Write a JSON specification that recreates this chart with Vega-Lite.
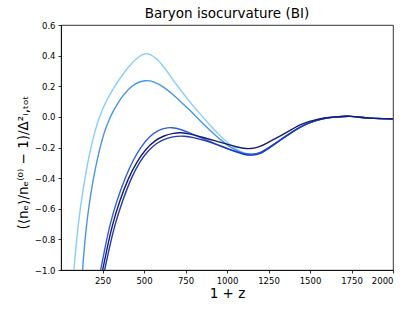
{
  "$schema": "https://vega.github.io/schema/vega-lite/v6.json",
  "width": 332,
  "height": 245,
  "autosize": {"type": "none"},
  "padding": {"left": 61, "top": 25, "right": 22, "bottom": 41},
  "background": "white",
  "config": {
    "font": "DejaVu Sans",
    "view": {"stroke": "black", "strokeWidth": 0.8},
    "axis": {"labelFont": "DejaVu Sans", "titleFont": "DejaVu Sans", "labelFontSize": 8.5, "labelColor": "black", "tickColor": "black", "domainColor": "black", "tickSize": 3, "tickWidth": 0.8, "domainWidth": 0.8, "grid": false, "titleFontWeight": "normal", "titleColor": "black", "labelPadding": 3}
  },
  "title": {"text": "Baryon isocurvature (BI)", "font": "DejaVu Sans", "fontSize": 13.5, "fontWeight": "normal", "color": "black", "offset": 1},
  "data": {"values": [
    {"s": "A", "x": 78, "y": -1.0}, {"s": "A", "x": 94, "y": -0.80}, {"s": "A", "x": 114, "y": -0.61}, {"s": "A", "x": 144, "y": -0.395}, {"s": "A", "x": 175, "y": -0.22}, {"s": "A", "x": 205, "y": -0.09}, {"s": "A", "x": 235, "y": 0.01}, {"s": "A", "x": 270, "y": 0.10}, {"s": "A", "x": 320, "y": 0.195}, {"s": "A", "x": 370, "y": 0.275}, {"s": "A", "x": 420, "y": 0.345}, {"s": "A", "x": 470, "y": 0.397}, {"s": "A", "x": 505, "y": 0.415}, {"s": "A", "x": 540, "y": 0.41}, {"s": "A", "x": 580, "y": 0.378}, {"s": "A", "x": 620, "y": 0.325}, {"s": "A", "x": 660, "y": 0.265}, {"s": "A", "x": 706, "y": 0.195}, {"s": "A", "x": 756, "y": 0.125}, {"s": "A", "x": 805, "y": 0.058}, {"s": "A", "x": 855, "y": 0.0}, {"s": "A", "x": 900, "y": -0.058}, {"s": "A", "x": 950, "y": -0.115}, {"s": "A", "x": 1000, "y": -0.165}, {"s": "A", "x": 1050, "y": -0.208}, {"s": "A", "x": 1100, "y": -0.236}, {"s": "A", "x": 1150, "y": -0.248}, {"s": "A", "x": 1200, "y": -0.238}, {"s": "A", "x": 1250, "y": -0.203}, {"s": "A", "x": 1320, "y": -0.15}, {"s": "A", "x": 1400, "y": -0.093}, {"s": "A", "x": 1440, "y": -0.065}, {"s": "A", "x": 1500, "y": -0.036}, {"s": "A", "x": 1540, "y": -0.021}, {"s": "A", "x": 1600, "y": -0.006}, {"s": "A", "x": 1650, "y": -0.001}, {"s": "A", "x": 1700, "y": 0.003}, {"s": "A", "x": 1740, "y": 0.005}, {"s": "A", "x": 1800, "y": -0.002}, {"s": "A", "x": 1860, "y": -0.009}, {"s": "A", "x": 1920, "y": -0.012}, {"s": "A", "x": 2000, "y": -0.012},

    {"s": "B", "x": 130, "y": -1.0}, {"s": "B", "x": 144, "y": -0.80}, {"s": "B", "x": 164, "y": -0.61}, {"s": "B", "x": 194, "y": -0.40}, {"s": "B", "x": 230, "y": -0.22}, {"s": "B", "x": 260, "y": -0.10}, {"s": "B", "x": 290, "y": -0.015}, {"s": "B", "x": 320, "y": 0.05}, {"s": "B", "x": 360, "y": 0.12}, {"s": "B", "x": 400, "y": 0.175}, {"s": "B", "x": 450, "y": 0.222}, {"s": "B", "x": 505, "y": 0.241}, {"s": "B", "x": 560, "y": 0.232}, {"s": "B", "x": 620, "y": 0.195}, {"s": "B", "x": 676, "y": 0.145}, {"s": "B", "x": 720, "y": 0.10}, {"s": "B", "x": 770, "y": 0.05}, {"s": "B", "x": 820, "y": -0.005}, {"s": "B", "x": 870, "y": -0.06}, {"s": "B", "x": 920, "y": -0.11}, {"s": "B", "x": 970, "y": -0.158}, {"s": "B", "x": 1020, "y": -0.198}, {"s": "B", "x": 1070, "y": -0.228}, {"s": "B", "x": 1120, "y": -0.245}, {"s": "B", "x": 1150, "y": -0.25}, {"s": "B", "x": 1200, "y": -0.24}, {"s": "B", "x": 1250, "y": -0.205}, {"s": "B", "x": 1320, "y": -0.152}, {"s": "B", "x": 1400, "y": -0.094}, {"s": "B", "x": 1440, "y": -0.066}, {"s": "B", "x": 1500, "y": -0.037}, {"s": "B", "x": 1540, "y": -0.021}, {"s": "B", "x": 1600, "y": -0.006}, {"s": "B", "x": 1650, "y": -0.001}, {"s": "B", "x": 1700, "y": 0.003}, {"s": "B", "x": 1740, "y": 0.005}, {"s": "B", "x": 1800, "y": -0.002}, {"s": "B", "x": 1860, "y": -0.009}, {"s": "B", "x": 1920, "y": -0.012}, {"s": "B", "x": 2000, "y": -0.012},

    {"s": "C", "x": 239, "y": -1.0}, {"s": "C", "x": 262, "y": -0.87}, {"s": "C", "x": 295, "y": -0.70}, {"s": "C", "x": 335, "y": -0.55}, {"s": "C", "x": 385, "y": -0.40}, {"s": "C", "x": 435, "y": -0.28}, {"s": "C", "x": 485, "y": -0.19}, {"s": "C", "x": 535, "y": -0.125}, {"s": "C", "x": 585, "y": -0.088}, {"s": "C", "x": 625, "y": -0.073}, {"s": "C", "x": 666, "y": -0.068}, {"s": "C", "x": 720, "y": -0.08}, {"s": "C", "x": 776, "y": -0.105}, {"s": "C", "x": 850, "y": -0.14}, {"s": "C", "x": 900, "y": -0.162}, {"s": "C", "x": 950, "y": -0.185}, {"s": "C", "x": 1000, "y": -0.205}, {"s": "C", "x": 1050, "y": -0.225}, {"s": "C", "x": 1100, "y": -0.24}, {"s": "C", "x": 1150, "y": -0.246}, {"s": "C", "x": 1200, "y": -0.236}, {"s": "C", "x": 1250, "y": -0.202}, {"s": "C", "x": 1320, "y": -0.15}, {"s": "C", "x": 1400, "y": -0.093}, {"s": "C", "x": 1440, "y": -0.065}, {"s": "C", "x": 1500, "y": -0.036}, {"s": "C", "x": 1540, "y": -0.021}, {"s": "C", "x": 1600, "y": -0.006}, {"s": "C", "x": 1650, "y": -0.001}, {"s": "C", "x": 1700, "y": 0.003}, {"s": "C", "x": 1740, "y": 0.005}, {"s": "C", "x": 1800, "y": -0.002}, {"s": "C", "x": 1860, "y": -0.009}, {"s": "C", "x": 1920, "y": -0.012}, {"s": "C", "x": 2000, "y": -0.012},

    {"s": "E", "x": 263, "y": -1.0}, {"s": "E", "x": 290, "y": -0.86}, {"s": "E", "x": 325, "y": -0.70}, {"s": "E", "x": 370, "y": -0.55}, {"s": "E", "x": 422, "y": -0.40}, {"s": "E", "x": 475, "y": -0.29}, {"s": "E", "x": 525, "y": -0.22}, {"s": "E", "x": 580, "y": -0.167}, {"s": "E", "x": 640, "y": -0.137}, {"s": "E", "x": 700, "y": -0.126}, {"s": "E", "x": 740, "y": -0.125}, {"s": "E", "x": 800, "y": -0.135}, {"s": "E", "x": 850, "y": -0.15}, {"s": "E", "x": 900, "y": -0.166}, {"s": "E", "x": 950, "y": -0.186}, {"s": "E", "x": 1000, "y": -0.207}, {"s": "E", "x": 1050, "y": -0.228}, {"s": "E", "x": 1100, "y": -0.246}, {"s": "E", "x": 1150, "y": -0.253}, {"s": "E", "x": 1200, "y": -0.242}, {"s": "E", "x": 1250, "y": -0.207}, {"s": "E", "x": 1320, "y": -0.153}, {"s": "E", "x": 1400, "y": -0.095}, {"s": "E", "x": 1440, "y": -0.067}, {"s": "E", "x": 1500, "y": -0.037}, {"s": "E", "x": 1540, "y": -0.022}, {"s": "E", "x": 1600, "y": -0.007}, {"s": "E", "x": 1650, "y": -0.001}, {"s": "E", "x": 1700, "y": 0.003}, {"s": "E", "x": 1740, "y": 0.005}, {"s": "E", "x": 1800, "y": -0.002}, {"s": "E", "x": 1860, "y": -0.009}, {"s": "E", "x": 1920, "y": -0.012}, {"s": "E", "x": 2000, "y": -0.012},

    {"s": "D", "x": 251, "y": -1.0}, {"s": "D", "x": 277, "y": -0.86}, {"s": "D", "x": 310, "y": -0.70}, {"s": "D", "x": 353, "y": -0.55}, {"s": "D", "x": 405, "y": -0.40}, {"s": "D", "x": 458, "y": -0.29}, {"s": "D", "x": 510, "y": -0.21}, {"s": "D", "x": 565, "y": -0.155}, {"s": "D", "x": 620, "y": -0.122}, {"s": "D", "x": 680, "y": -0.106}, {"s": "D", "x": 720, "y": -0.102}, {"s": "D", "x": 776, "y": -0.11}, {"s": "D", "x": 850, "y": -0.133}, {"s": "D", "x": 900, "y": -0.148}, {"s": "D", "x": 950, "y": -0.163}, {"s": "D", "x": 1000, "y": -0.178}, {"s": "D", "x": 1050, "y": -0.194}, {"s": "D", "x": 1100, "y": -0.206}, {"s": "D", "x": 1140, "y": -0.21}, {"s": "D", "x": 1200, "y": -0.195}, {"s": "D", "x": 1250, "y": -0.165}, {"s": "D", "x": 1320, "y": -0.125}, {"s": "D", "x": 1400, "y": -0.076}, {"s": "D", "x": 1440, "y": -0.05}, {"s": "D", "x": 1500, "y": -0.028}, {"s": "D", "x": 1540, "y": -0.016}, {"s": "D", "x": 1600, "y": -0.005}, {"s": "D", "x": 1650, "y": 0.0}, {"s": "D", "x": 1700, "y": 0.003}, {"s": "D", "x": 1740, "y": 0.005}, {"s": "D", "x": 1800, "y": -0.002}, {"s": "D", "x": 1860, "y": -0.009}, {"s": "D", "x": 1920, "y": -0.011}, {"s": "D", "x": 2000, "y": -0.012}
  ]},
  "mark": {"type": "line", "strokeWidth": 1.4, "interpolate": "basis", "clip": true},
  "encoding": {
    "x": {"field": "x", "type": "quantitative", "scale": {"domain": [0, 2000], "nice": false, "zero": false},
      "axis": {"values": [250, 500, 750, 1000, 1250, 1500, 1750, 2000], "format": "d", "title": "1 + z", "titleFontSize": 13.5, "titlePadding": 2}},
    "y": {"field": "y", "type": "quantitative", "scale": {"domain": [-1.0, 0.6], "nice": false, "zero": false},
      "axis": {"values": [-1.0, -0.8, -0.6, -0.4, -0.2, 0.0, 0.2, 0.4, 0.6], "labelExpr": "replace(format(datum.value, '.1f'), '-', '−')", "title": "(⟨nₑ⟩/nₑ⁽⁰⁾ − 1)/Δ²ᵢ,ₜₒₜ", "titleFontSize": 13.5, "titlePadding": 4, "titleY": 137}},
    "color": {"field": "s", "type": "nominal", "legend": null, "sort": ["A", "B", "C", "E", "D"],
      "scale": {"domain": ["A", "B", "C", "E", "D"], "range": ["#87cefa", "#4a95e8", "#2f5fe0", "#2238b8", "#1b1b6b"]}},
    "order": {"field": "x", "type": "quantitative"}
  }
}
